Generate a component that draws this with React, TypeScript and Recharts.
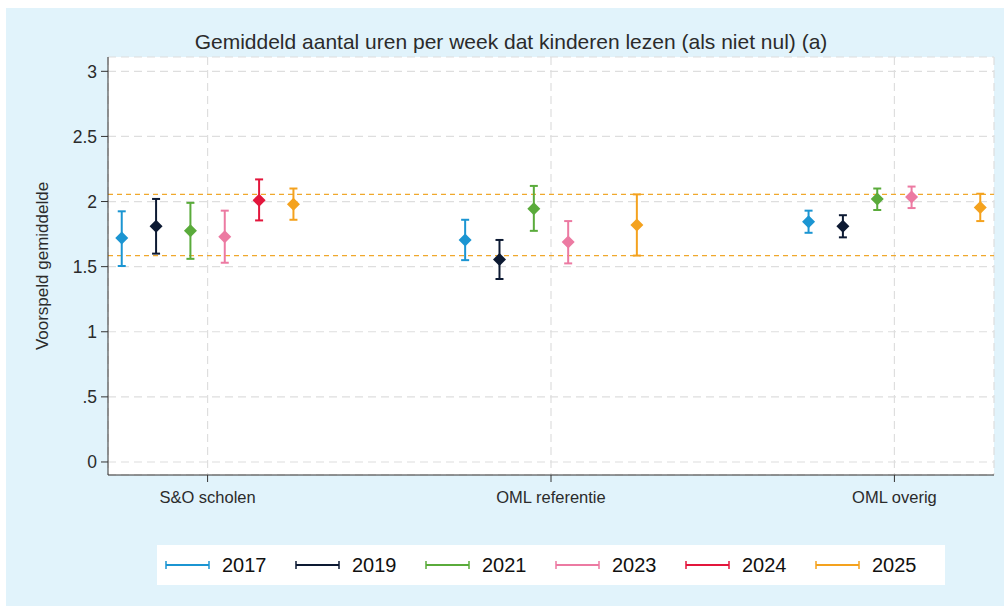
import {
	CartesianGrid,
	ErrorBar,
	Legend,
	ReferenceLine,
	Scatter,
	ScatterChart,
	XAxis,
	YAxis,
} from "recharts";

// Categories on the x axis and the survey years drawn inside each group
const categories = ["S&O scholen", "OML referentie", "OML overig"];
const years = ["2017", "2019", "2021", "2023", "2024", "2025"];
const yearColors = ["#1b95d2", "#0d1a33", "#5aab3b", "#ec7aa2", "#e3163c", "#f4a21e"];

// Predicted means per year (rows) and category (columns); null = not measured
const meanValues: (number | null)[][] = [
	[1.72, 1.705, 1.845],
	[1.81, 1.555, 1.81],
	[1.775, 1.945, 2.02],
	[1.73, 1.69, 2.035],
	[2.01, null, null],
	[1.98, 1.82, 1.955],
];
// Lower and upper bound of the confidence interval, same layout
const lowerBounds: (number | null)[][] = [
	[1.505, 1.55, 1.76],
	[1.6, 1.405, 1.725],
	[1.56, 1.775, 1.935],
	[1.53, 1.525, 1.95],
	[1.855, null, null],
	[1.86, 1.585, 1.85],
];
const upperBounds: (number | null)[][] = [
	[1.925, 1.86, 1.93],
	[2.02, 1.705, 1.895],
	[1.99, 2.12, 2.1],
	[1.93, 1.85, 2.115],
	[2.17, null, null],
	[2.1, 2.055, 2.06],
];

// Dashed orange guide lines
const guideLines = [1.585, 2.055];
const yTicks = [0, 0.5, 1, 1.5, 2, 2.5, 3];

const BG = "#e1f3fb";
const TEXT = "#2b2b2b";
const YEAR_STEP = 0.1; // spacing of the years inside one category

function rowsForYear(yi: number) {
	const rows: { x: number; y: number; err: [number, number] }[] = [];
	categories.forEach((_, ci) => {
		const m = meanValues[yi][ci];
		const lo = lowerBounds[yi][ci];
		const hi = upperBounds[yi][ci];
		if (m == null || lo == null || hi == null) return;
		rows.push({
			x: ci + (yi - (years.length - 1) / 2) * YEAR_STEP,
			y: m,
			err: [m - lo, hi - m],
		});
	});
	return rows;
}

// Stata-like filled diamond marker
function diamond(color: string) {
	return (props: any) => {
		const { cx, cy } = props;
		if (cx == null || cy == null) return <g />;
		const r = 6.5;
		return (
			<path
				d={`M${cx},${cy - r}L${cx + r},${cy}L${cx},${cy + r}L${cx - r},${cy}Z`}
				fill={color}
			/>
		);
	};
}

function YearLegend() {
	return (
		<div
			style={{
				display: "flex",
				alignItems: "center",
				background: "#fff",
				width: 788,
				height: 40,
				paddingLeft: 8,
				boxSizing: "border-box",
				fontFamily: '"Liberation Sans", Arial, sans-serif',
			}}
		>
			{years.map((y, i) => (
				<div key={y} style={{ display: "flex", alignItems: "center", width: 133 }}>
					<svg width={45} height={10}>
						<line x1={1} y1={5} x2={44} y2={5} stroke={yearColors[i]} strokeWidth={2} />
						<line x1={1} y1={1} x2={1} y2={9} stroke={yearColors[i]} strokeWidth={1.5} />
						<line x1={44} y1={1} x2={44} y2={9} stroke={yearColors[i]} strokeWidth={1.5} />
					</svg>
					<span style={{ marginLeft: 12, fontSize: 20, color: "#111" }}>{y}</span>
				</div>
			))}
		</div>
	);
}

export default function App() {
	return (
		<div
			style={{
				position: "absolute",
				left: 0,
				top: 0,
				width: 1004,
				height: 606,
				background: "#fff",
				overflow: "hidden",
				fontFamily: '"Liberation Sans", Arial, sans-serif',
			}}
		>
			{/* light blue graph region, Stata style */}
			<div
				style={{
					position: "absolute",
					left: 6,
					top: 8,
					width: 998,
					height: 598,
					background: BG,
				}}
			/>
			<div
				style={{
					position: "absolute",
					left: 0,
					top: 30,
					width: 1022,
					textAlign: "center",
					fontSize: 21,
					color: TEXT,
				}}
			>
				Gemiddeld aantal uren per week dat kinderen lezen (als niet nul) (a)
			</div>
			<div style={{ position: "absolute", left: 0, top: 0 }}>
				<ScatterChart
					width={1004}
					height={606}
					margin={{ top: 57, right: 10, bottom: 0, left: 0 }}
				>
					<CartesianGrid
						fill="#fff"
						stroke="#dedede"
						strokeDasharray="8 5"
						strokeWidth={1.2}
					/>
					<XAxis
						type="number"
						dataKey="x"
						domain={[-0.29, 2.29]}
						ticks={[0, 1, 2]}
						allowDataOverflow
						height={131}
						tickFormatter={(i: number) => categories[i] ?? ""}
						tick={{ fill: TEXT, fontSize: 16.5 }}
						tickSize={7}
						tickMargin={9}
						axisLine={{ stroke: "#333" }}
						tickLine={{ stroke: "#333" }}
					/>
					<YAxis
						type="number"
						dataKey="y"
						domain={[-0.1, 3.11]}
						ticks={yTicks}
						allowDataOverflow
						width={108}
						tickFormatter={(v: number) => (v === 0 ? "0" : String(v).replace(/^0\./, "."))}
						tick={{ fill: TEXT, fontSize: 17.5 }}
						tickSize={7}
						tickMargin={4}
						axisLine={{ stroke: "#333" }}
						tickLine={{ stroke: "#333" }}
						label={{
							value: "Voorspeld gemiddelde",
							angle: -90,
							position: "insideLeft",
							offset: 42,
							style: { textAnchor: "middle", fill: TEXT, fontSize: 17 },
						}}
					/>
					{guideLines.map((g) => (
						<ReferenceLine
							key={g}
							y={g}
							stroke="#f0a82c"
							strokeDasharray="5 4"
							strokeWidth={1.3}
						/>
					))}
					{years.map((y, yi) => (
						<Scatter
							key={y}
							name={y}
							data={rowsForYear(yi)}
							fill={yearColors[yi]}
							shape={diamond(yearColors[yi])}
							isAnimationActive={false}
						>
							<ErrorBar
								dataKey="err"
								direction="y"
								width={4}
								stroke={yearColors[yi]}
								strokeWidth={2}
								isAnimationActive={false}
							/>
						</Scatter>
					))}
					<Legend
						layout="horizontal"
						verticalAlign="middle"
						align="center"
						content={() => <YearLegend />}
						wrapperStyle={{ left: 157, top: 545, width: 788, height: 40 }}
					/>
				</ScatterChart>
			</div>
		</div>
	);
}
